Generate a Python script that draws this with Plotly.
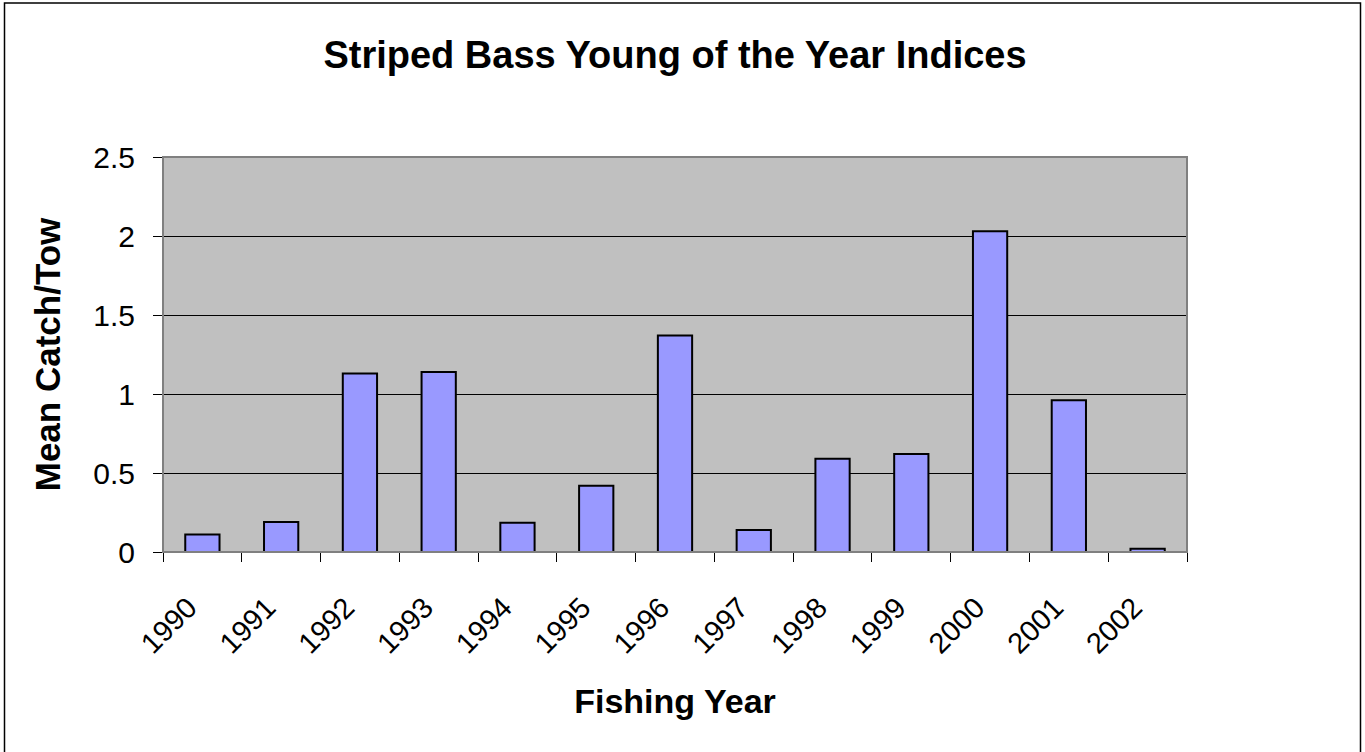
import plotly.graph_objects as go

years = ["1990", "1991", "1992", "1993", "1994", "1995", "1996",
         "1997", "1998", "1999", "2000", "2001", "2002"]
mean_catch = [0.11, 0.19, 1.13, 1.14, 0.185, 0.42, 1.37,
              0.14, 0.59, 0.62, 2.03, 0.96, 0.02]
y_ticks = [0, 0.5, 1, 1.5, 2, 2.5]
y_tick_labels = ["0", "0.5", "1", "1.5", "2", "2.5"]

W, H = 1365, 752
L, R, T, B = 163, 1187, 157, 552

font_family = "Liberation Sans, Arial, sans-serif"

fig = go.Figure(go.Bar(
    x=years, y=mean_catch,
    marker=dict(color="#9999FF", line=dict(color="black", width=2)),
))

def px_to_paper_x(p):
    return (p - L) / (R - L)

def px_to_paper_y(p):
    return (B - p) / (B - T)

fig.update_layout(
    width=W, height=H,
    margin=dict(l=L, r=W - R, t=T, b=H - B, autoexpand=False),
    paper_bgcolor="white",
    plot_bgcolor="#C0C0C0",
    bargap=0.565,
    showlegend=False,
    title=dict(text="<b>Striped Bass Young of the Year Indices</b>",
               x=0.5, xanchor="center", xref="paper",
               y=1 - 55 / H, yanchor="middle",
               font=dict(family=font_family, size=38, color="black")),
    font=dict(family=font_family, color="black"),
    shapes=[
        dict(type="rect", xref="paper", yref="paper",
             x0=px_to_paper_x(4.5), x1=px_to_paper_x(1360.5),
             y0=px_to_paper_y(755), y1=px_to_paper_y(3),
             line=dict(color="black", width=1.5), layer="below"),
        dict(type="rect", xref="paper", yref="paper",
             x0=0, x1=1, y0=0, y1=1,
             line=dict(color="#808080", width=2), layer="above"),
    ],
)

fig.update_xaxes(
    type="category",
    tickson="boundaries",
    ticks="outside", ticklen=9, tickcolor="black", tickwidth=1,
    tickangle=-45,
    tickfont=dict(size=29, family=font_family),
    ticklabelstandoff=26, ticklabelshift=-14,
    showline=True, linecolor="black", linewidth=1,
    showgrid=False,
    title=dict(text="<b>Fishing Year</b>", standoff=30,
               font=dict(size=34, family=font_family)),
)

fig.update_yaxes(
    range=[0, 2.5],
    tickvals=y_ticks, ticktext=y_tick_labels,
    ticks="outside", ticklen=9, tickcolor="black", tickwidth=1,
    tickfont=dict(size=30, family=font_family),
    ticklabelstandoff=12,
    showline=True, linecolor="#555555", linewidth=1,
    showgrid=True, gridcolor="black", gridwidth=1,
    zeroline=False,
    title=dict(text="<b>Mean Catch/Tow</b>", standoff=22,
               font=dict(size=35, family=font_family)),
)

fig.write_html(
    "out.html",
    config={"displayModeBar": False},
    post_script="document.body.style.margin='0';document.body.style.overflow='hidden';",
)
